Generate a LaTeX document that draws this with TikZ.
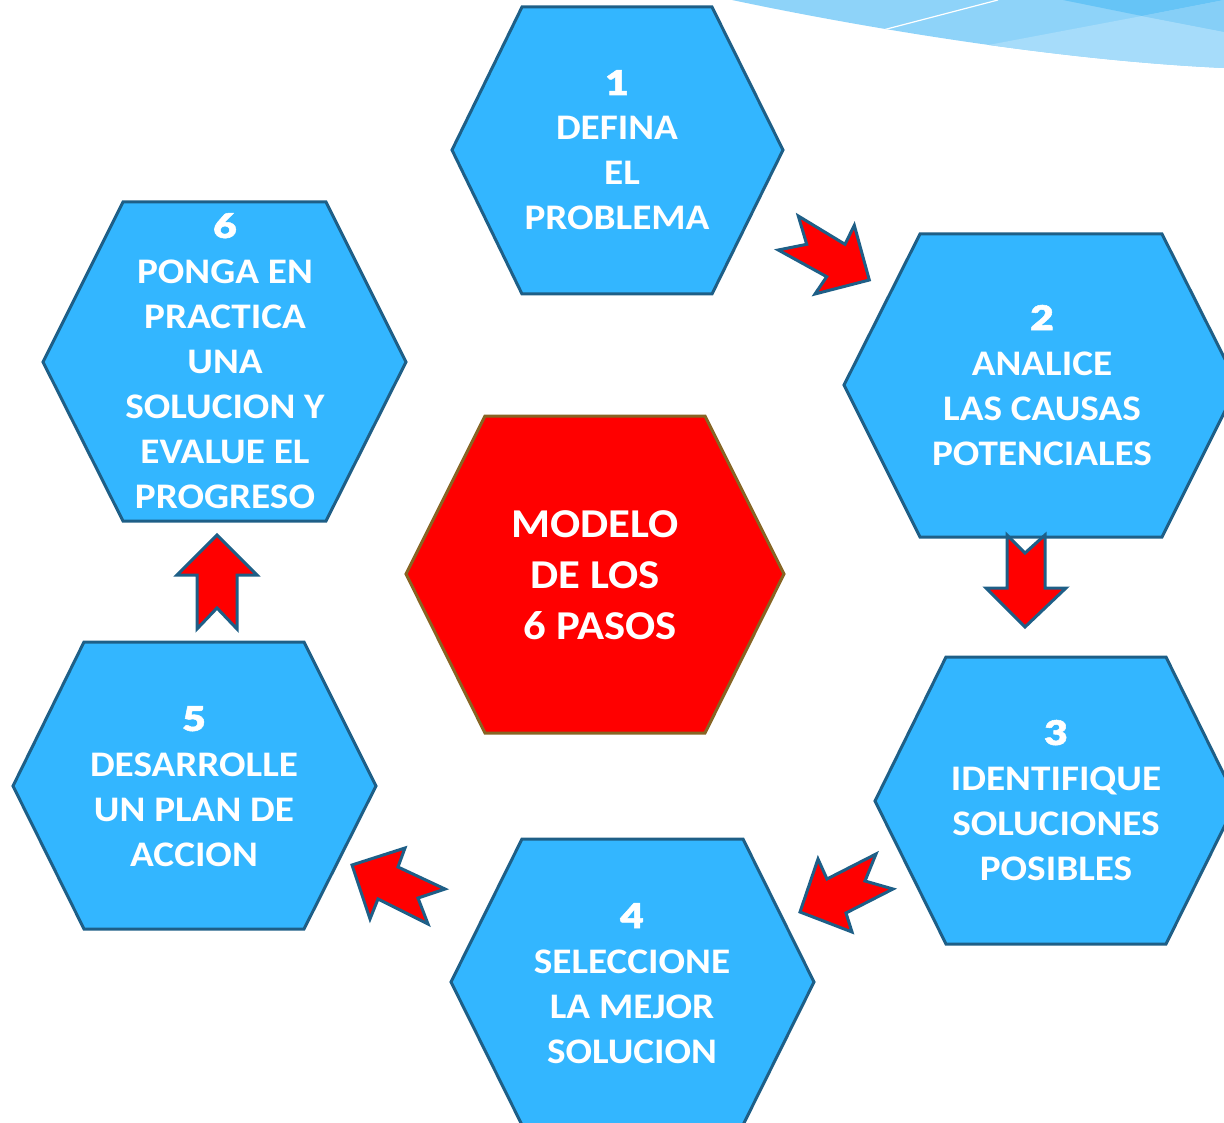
\documentclass[tikz,border=0pt]{standalone}
\usepackage{fontspec}
\setmainfont{Carlito}[FakeStretch=1.09]
\newfontfamily\numfont{Lato Black}[BoldFont={Lato Black},FakeStretch=1.2,FakeBold=1.5]
\definecolor{hexblue}{RGB}{51,182,255}
\definecolor{hexline}{RGB}{30,95,135}
\definecolor{cenline}{RGB}{135,100,35}
\definecolor{bandA}{RGB}{142,211,249}
\definecolor{bandB}{RGB}{166,220,250}
\definecolor{bandC}{RGB}{102,196,246}
\definecolor{bandD}{RGB}{134,207,247}
\tikzset{
  hexa/.style={fill=hexblue,draw=hexline,line width=3pt,line join=miter},
  cenhex/.style={fill=red,draw=cenline,line width=3pt,line join=miter},
  redarrow/.style={fill=red,draw=hexline,line width=3pt,line join=miter},
  lbl/.style={text=white,font=\bfseries\fontsize{36}{45}\selectfont,align=center,anchor=base,inner sep=0pt},
  cenlbl/.style={text=white,font=\bfseries\fontsize{41}{51}\selectfont,align=center,anchor=base,inner sep=0pt}
}
\newcommand{\num}[1]{{\numfont\fontsize{34}{45}\selectfont #1}}
\begin{document}
\begin{tikzpicture}[x=1pt,y=-1pt]
\useasboundingbox (0,0) rectangle (1224,1123);
\clip (0,0) rectangle (1224,1123);
% background band top right
\begin{scope}
\clip (732,0) .. controls (850,25) and (1050,60) .. (1224,68) -- (1224,0) -- cycle;
\fill[bandA] (700,-5) rectangle (1230,80);
\fill[bandB] (983,46) -- (1142,16) -- (1230,33) -- (1230,80) -- (900,80) -- cycle;
\fill[bandC] (1063,0) -- (1142,16) -- (1224,0) -- cycle;
\fill[bandD] (1142,16) -- (1224,0) -- (1230,0) -- (1230,33) -- cycle;
\draw[white,line width=1.2pt] (883,30) -- (998,0);
\end{scope}
% hexagons
\path[hexa] (522,7) -- (712,7) -- (783,150) -- (712,294) -- (522,294) -- (452,150) -- cycle;
\path[hexa] (920,234) -- (1162,234) -- (1238,385) -- (1162,537) -- (920,537) -- (844,385) -- cycle;
\path[hexa] (946,657) -- (1166,657) -- (1237,801) -- (1166,944) -- (946,944) -- (875,801) -- cycle;
\path[hexa] (522,839) -- (743,839) -- (814,982) -- (743,1125) -- (522,1125) -- (451,982) -- cycle;
\path[hexa] (84,642) -- (304,642) -- (376,786) -- (304,929) -- (84,929) -- (13,786) -- cycle;
\path[hexa] (123,202) -- (326,202) -- (406,362) -- (326,521) -- (123,521) -- (43,362) -- cycle;
\path[cenhex] (485,416) -- (705,416) -- (784,574) -- (705,733) -- (485,733) -- (406,574) -- cycle;
% arrows
\path[redarrow] (798.3,216) -- (845,244.3) -- (854.3,225.3) -- (869.3,280) -- (815,294) -- (826.7,276.7) -- (778.3,250) -- (806.7,244.3) -- cycle;
\path[redarrow] (1007,535) -- (1025,553) -- (1045,535) -- (1045,588) -- (1066,588) -- (1025,627) -- (986,588) -- (1007,588) -- cycle;
\path[redarrow] (800,912) -- (818,859) -- (827,879) -- (876,854) -- (865,881) -- (893,889) -- (846,913) -- (852,932) -- cycle;
\path[redarrow] (352,865) -- (405,848) -- (398,867) -- (445,889) -- (418,898) -- (428,924) -- (378,899) -- (370,919) -- cycle;
\path[redarrow] (217,535) -- (257,575) -- (237,575) -- (237,629) -- (217,608) -- (197,629) -- (197,575) -- (177,575) -- cycle;
% labels (anchored at the baseline of the last line)
\node[lbl] (t1) at (617,230) {\num{1}\\DEFINA\\\hspace*{10pt}EL\\PROBLEMA};
\node[lbl] (t2) at (1042,465) {\num{2}\\ANALICE\\LAS CAUSAS\\POTENCIALES};
\node[lbl] (t3) at (1056,880) {\num{3}\\IDENTIFIQUE\\SOLUCIONES\\POSIBLES};
\node[lbl] (t4) at (632,1063) {\num{4}\\SELECCIONE\\LA MEJOR\\SOLUCION};
\node[lbl] (t5) at (194,866) {\num{5}\\DESARROLLE\\UN PLAN DE\\ACCION};
\node[lbl] (t6) at (225,508) {\num{6}\\PONGA EN\\PRACTICA\\UNA\\SOLUCION Y\\EVALUE EL\\PROGRESO};
\node[cenlbl] (tc) at (595,639) {MODELO\\DE LOS\\\hspace*{10pt}6 PASOS};
\end{tikzpicture}
\end{document}
